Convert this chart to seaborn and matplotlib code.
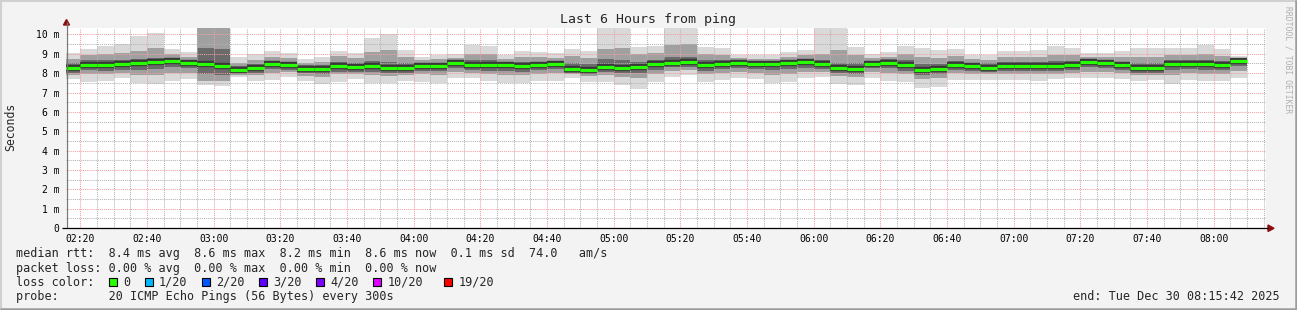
import numpy as np
import pandas as pd
import matplotlib
matplotlib.use("Agg")
import matplotlib.pyplot as plt
from matplotlib.patches import Rectangle, Polygon
from matplotlib.lines import Line2D
import seaborn as sns

# ---------------- data (ms), one entry per 5-minute step from 02:15 ----------------
median = [8.28, 8.44, 8.42, 8.45, 8.50, 8.56, 8.61, 8.54, 8.45, 8.35,
          8.17, 8.26, 8.47, 8.42, 8.23, 8.19, 8.35, 8.31, 8.35, 8.28,
          8.25, 8.35, 8.38, 8.52, 8.42, 8.42, 8.42, 8.35, 8.42, 8.47,
          8.23, 8.17, 8.31, 8.26, 8.30, 8.45, 8.54, 8.56, 8.42, 8.49,
          8.52, 8.47, 8.45, 8.50, 8.56, 8.45, 8.25, 8.19, 8.49, 8.54,
          8.42, 8.16, 8.21, 8.44, 8.35, 8.28, 8.35, 8.38, 8.38, 8.38,
          8.42, 8.57, 8.52, 8.40, 8.28, 8.28, 8.45, 8.49, 8.45, 8.42,
          8.61]
smoke_hi = [9.02, 9.25, 9.38, 9.49, 9.90, 10.09, 9.25, 9.07, 10.8, 10.6,
            8.82, 8.99, 9.14, 9.02, 8.73, 8.82, 9.14, 9.06, 9.80, 10.02,
            9.19, 8.85, 8.94, 8.99, 9.45, 9.42, 8.94, 9.14, 9.11, 9.02,
            9.25, 9.14, 10.6, 10.6, 9.37, 9.42, 10.6, 10.6, 9.37, 9.31,
            8.94, 8.94, 8.94, 9.11, 9.19, 10.6, 10.6, 9.37, 8.97, 9.11,
            9.42, 9.31, 9.19, 9.25, 8.94, 8.94, 9.14, 9.14, 9.19, 9.42,
            9.31, 9.02, 9.02, 9.14, 9.28, 9.28, 9.31, 9.31, 9.45, 9.25,
            8.90]
smoke_lo = [7.69, 7.56, 7.61, 7.73, 7.50, 7.45, 7.59, 7.69, 7.38, 7.35,
            7.82, 7.59, 7.64, 7.82, 7.59, 7.42, 7.56, 7.69, 7.50, 7.47,
            7.59, 7.56, 7.47, 7.73, 7.73, 7.59, 7.47, 7.50, 7.59, 7.59,
            7.73, 7.56, 7.52, 7.38, 7.18, 7.52, 7.82, 7.90, 7.56, 7.64,
            7.76, 7.69, 7.47, 7.56, 7.73, 7.82, 7.42, 7.38, 7.73, 7.61,
            7.56, 7.21, 7.26, 7.64, 7.64, 7.64, 7.64, 7.64, 7.59, 7.69,
            7.76, 7.76, 7.73, 7.69, 7.59, 7.64, 7.42, 7.64, 7.59, 7.59,
            7.73]
mid_hi = [8.75, 8.95, 9.00, 9.05, 9.15, 9.30, 9.00, 8.85, 10.5, 10.5,
          8.55, 8.70, 8.85, 8.80, 8.55, 8.60, 8.90, 8.80, 9.10, 9.20,
          8.85, 8.70, 8.75, 8.80, 9.00, 9.00, 8.75, 8.85, 8.85, 8.80,
          8.90, 8.80, 9.25, 9.30, 9.00, 9.05, 9.45, 9.50, 9.00, 8.95,
          8.80, 8.75, 8.75, 8.85, 8.95, 9.00, 9.20, 8.95, 8.80, 8.85,
          9.00, 8.85, 8.80, 8.90, 8.75, 8.70, 8.85, 8.85, 8.85, 8.95,
          8.95, 8.85, 8.85, 8.85, 8.85, 8.85, 8.95, 8.95, 9.00, 8.90,
          8.80]
mid_lo = [7.90, 7.95, 7.95, 8.00, 7.90, 7.90, 8.00, 8.00, 7.60, 7.60,
          7.90, 7.90, 8.00, 8.05, 7.85, 7.80, 7.95, 7.95, 7.90, 7.85,
          7.90, 7.95, 7.90, 8.05, 8.00, 7.95, 7.90, 7.90, 7.95, 8.00,
          7.95, 7.85, 7.90, 7.80, 7.75, 7.95, 8.10, 8.15, 7.95, 8.00,
          8.05, 8.00, 7.90, 7.95, 8.05, 8.05, 7.85, 7.80, 8.05, 8.00,
          7.95, 7.70, 7.75, 8.00, 7.95, 7.95, 7.95, 7.95, 7.95, 7.95,
          8.00, 8.05, 8.05, 8.00, 7.90, 7.90, 7.90, 8.00, 7.95, 7.95,
          8.10]
core_hi = [8.50, 8.70, 8.70, 8.70, 8.75, 8.80, 8.80, 8.70, 9.30, 9.25,
           8.35, 8.45, 8.65, 8.60, 8.40, 8.40, 8.60, 8.55, 8.65, 8.60,
           8.50, 8.55, 8.55, 8.70, 8.70, 8.70, 8.60, 8.60, 8.60, 8.65,
           8.50, 8.45, 8.75, 8.70, 8.60, 8.70, 8.85, 8.85, 8.70, 8.70,
           8.70, 8.65, 8.65, 8.70, 8.75, 8.70, 8.55, 8.50, 8.65, 8.75,
           8.70, 8.45, 8.45, 8.65, 8.55, 8.50, 8.60, 8.60, 8.60, 8.65,
           8.65, 8.75, 8.70, 8.60, 8.55, 8.55, 8.70, 8.70, 8.70, 8.65,
           8.75]
core_lo = [8.00, 8.15, 8.12, 8.15, 8.18, 8.22, 8.30, 8.25, 7.95, 7.90,
           8.00, 8.00, 8.20, 8.15, 8.00, 7.95, 8.08, 8.05, 8.05, 8.00,
           8.00, 8.10, 8.10, 8.25, 8.15, 8.12, 8.12, 8.05, 8.15, 8.20,
           8.00, 7.95, 8.05, 8.00, 8.00, 8.15, 8.30, 8.30, 8.12, 8.20,
           8.25, 8.20, 8.15, 8.20, 8.28, 8.20, 8.00, 7.95, 8.25, 8.25,
           8.12, 7.90, 7.95, 8.15, 8.10, 8.05, 8.10, 8.10, 8.10, 8.10,
           8.15, 8.30, 8.25, 8.15, 8.00, 8.00, 8.15, 8.20, 8.15, 8.15,
           8.35]

x_tick_labels = ["02:20", "02:40", "03:00", "03:20", "03:40", "04:00", "04:20",
                 "04:40", "05:00", "05:20", "05:40", "06:00", "06:20", "06:40",
                 "07:00", "07:20", "07:40", "08:00"]
y_tick_labels = ["0", "1 m", "2 m", "3 m", "4 m", "5 m", "6 m", "7 m", "8 m", "9 m", "10 m"]
loss_labels = ["0", "1/20", "2/20", "3/20", "4/20", "10/20", "19/20"]
loss_colors = ["#26ff00", "#00b8ff", "#0059ff", "#5e00ff", "#7e00ff", "#dd00ff", "#ff0000"]

# ---------------- setup ----------------
sns.set_style("white")
plt.rcParams['font.family'] = ['DejaVu Sans Mono']
plt.rcParams['lines.solid_capstyle'] = 'butt'

W, H = 1297, 310
fig = plt.figure(figsize=(W / 100, H / 100), dpi=100, facecolor="#f3f3f3")

def fx(px):
    return px / W

def fy(py):
    return 1 - py / H

ax_left, ax_right, ax_top, ax_bottom = 66, 1266, 27.5, 228
ax = fig.add_axes([fx(ax_left), fy(ax_bottom), (ax_right - ax_left) / W, (ax_bottom - ax_top) / H])
ax.set_facecolor("white")

n = len(median)
day0 = pd.Timestamp("2025-12-30 00:00")
times = pd.date_range("2025-12-30 02:15", periods=n, freq="5min")
t0 = np.asarray((times - day0).total_seconds() / 60.0)
end_time = pd.Timestamp("2025-12-30 08:15:42")
xmax = (end_time - day0).total_seconds() / 60.0
xmin = xmax - 360
ax.set_xlim(xmin, xmax)
ax.set_ylim(0, 10.36)

med = np.array(median)
layers = [(smoke_lo, smoke_hi, "#d9d9d9"),
          (mid_lo, mid_hi, "#a0a0a0"),
          (core_lo, core_hi, "#6a6a6a")]
for lo, hi, col in layers:
    lo = np.array(lo); hi = np.array(hi)
    ax.bar(t0, hi - lo, bottom=lo, width=5, align="edge", color=col,
           linewidth=0, antialiased=False, zorder=1)

seg = pd.DataFrame({
    "t": np.repeat(t0, 2) + np.tile([0.0, 5.0], n),
    "rtt": np.repeat(med, 2),
    "bar": np.repeat(np.arange(n), 2),
})
# dark shadow hugging the median, then the green median itself
sns.lineplot(data=seg, x="t", y="rtt", units="bar", estimator=None,
             color="#383838", lw=4.6, ax=ax, zorder=4, legend=False)
sns.lineplot(data=seg, x="t", y="rtt", units="bar", estimator=None,
             color=loss_colors[0], lw=2.3, ax=ax, zorder=5, legend=False)

# grid
major_x = [(pd.Timestamp("2025-12-30 " + s) - day0).total_seconds() / 60 for s in x_tick_labels]
ax.set_xticks(major_x)
ax.set_xticklabels(x_tick_labels)
ax.set_xticks(np.arange(140, 496, 5), minor=True)
ax.set_yticks(range(len(y_tick_labels)))
ax.set_yticklabels(y_tick_labels)
ax.set_yticks(np.arange(0.5, 10.4, 1.0), minor=True)
ax.set_axisbelow(False)
ax.grid(which="minor", color="#b4b4b4", linestyle=(0, (1, 1)), linewidth=0.75, zorder=3)
ax.grid(which="major", color="#f2a0a0", linestyle=(0, (1, 1)), linewidth=0.75, zorder=3)
ax.set_xlabel("")
ax.set_ylabel("")
ax.tick_params(axis="both", which="both", length=0, labelsize=7, colors="black")
ax.tick_params(axis="x", pad=4)
ax.tick_params(axis="y", pad=4.5)
for s in ["top", "right", "left", "bottom"]:
    ax.spines[s].set_visible(False)

# axes lines + arrows (figure pixel coordinates)
fig.add_artist(Line2D([fx(66.5), fx(66.5)], [fy(ax_bottom), fy(22)], color="#777777", lw=0.9))
fig.add_artist(Line2D([fx(62), fx(1268)], [fy(228.3), fy(228.3)], color="black", lw=0.9))
fig.add_artist(Polygon([[fx(63.5), fy(25)], [fx(69.5), fy(25)], [fx(66.5), fy(19.5)]],
                       closed=True, color="#8b1010", transform=fig.transFigure))
fig.add_artist(Polygon([[fx(1268), fy(225)], [fx(1268), fy(231.5)], [fx(1274), fy(228.3)]],
                       closed=True, color="#8b1010", transform=fig.transFigure))

# titles
fig.text(fx(648), fy(19), "Last 6 Hours from ping", ha="center", va="center", fontsize=9.5)
fig.text(fx(11), fy(127), "Seconds", rotation=90, ha="center", va="center", fontsize=8.3)
fig.text(fx(1288), fy(60), "RRDTOOL / TOBI OETIKER", rotation=270, ha="center", va="center",
         fontsize=5.8, color="#b0b0b0")

# legend block
cw = 7.14
lx = 16
fs = 8.5
fig.text(fx(lx), fy(254), "median rtt:  8.4 ms avg  8.6 ms max  8.2 ms min  8.6 ms now  0.1 ms sd  74.0   am/s",
         ha="left", va="center", fontsize=fs)
fig.text(fx(lx), fy(268.3), "packet loss: 0.00 % avg  0.00 % max  0.00 % min  0.00 % now",
         ha="left", va="center", fontsize=fs)
fig.text(fx(lx), fy(282.3), "loss color:", ha="left", va="center", fontsize=fs)
box_cols = [13, 18, 26, 34, 42, 50, 60]
for lab, col, c in zip(loss_labels, loss_colors, box_cols):
    bx = lx + c * cw
    fig.add_artist(Rectangle((fx(bx), fy(286)), 8 / W, 8 / H, transform=fig.transFigure,
                             facecolor=col, edgecolor="black", lw=0.8))
    fig.text(fx(lx + (c + 2) * cw), fy(282.3), lab, ha="left", va="center", fontsize=fs)
fig.text(fx(lx), fy(296.5), "probe:       20 ICMP Echo Pings (56 Bytes) every 300s",
         ha="left", va="center", fontsize=fs)
fig.text(fx(1280), fy(296.5), "end: Tue Dec 30 08:15:42 2025", ha="right", va="center", fontsize=fs)

# frame
fig.add_artist(Line2D([0, 1], [fy(0.8), fy(0.8)], color="#d0d0d0", lw=1.5))
fig.add_artist(Line2D([fx(0.8), fx(0.8)], [0, 1], color="#d0d0d0", lw=1.5))
fig.add_artist(Line2D([0, 1], [fy(308.8), fy(308.8)], color="#9c9c9c", lw=1.8))
fig.add_artist(Line2D([fx(1295.8), fx(1295.8)], [0, 1], color="#9c9c9c", lw=1.8))

fig.savefig("out.png", dpi=100, facecolor=fig.get_facecolor())
